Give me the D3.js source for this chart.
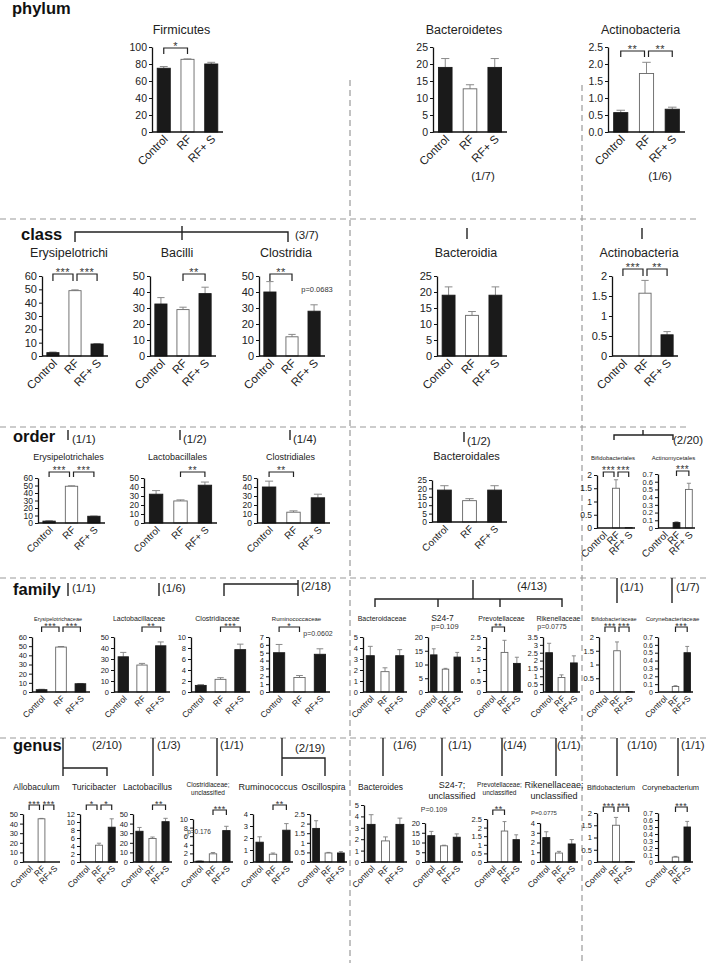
<!DOCTYPE html>
<html>
<head>
<meta charset="utf-8">
<script src="https://cdn.jsdelivr.net/npm/d3@7"></script>
<style>
  body { margin: 0; background: #fff; }
  svg { display: block; font-family: "Liberation Sans", Arial, sans-serif; }
</style>
</head>
<body>
<div class="svgs"></div>
<script>
const width = 709
const height = 963

// ---- data ----
const groupsUpper = ["Control", "RF", "RF+ S"]
const groupsLower = ["Control", "RF", "RF+S"]
const rankNames = ["phylum", "class", "order", "family", "genus"]

const panelNames = [
    "Firmicutes", "Bacteroidetes", "Actinobacteria",
    "Erysipelotrichi", "Bacilli", "Clostridia", "Bacteroidia", "Actinobacteria",
    "Erysipelotrichales", "Lactobacillales", "Clostridiales", "Bacteroidales", "Bifidobacteriales", "Actinomycetales",
    "Erysipelotrichaceae", "Lactobacillaceae", "Clostridiaceae", "Ruminococcaceae", "Bacteroidaceae",
    "S24-7", "Prevotellaceae", "Rikenellaceae", "Bifidobacteriaceae", "Corynebacteriaceae",
    "Allobaculum", "Turicibacter", "Lactobacillus", "Clostridiaceae;|unclassified", "Ruminococcus", "Oscillospira",
    "Bacteroides", "S24-7;|unclassified", "Prevotellaceae;|unclassified", "Rikenellaceae;|unclassified",
    "Bifidobacterium", "Corynebacterium"
]
const panelRank = [0,0,0, 1,1,1,1,1, 2,2,2,2,2,2, 3,3,3,3,3,3,3,3,3,3, 4,4,4,4,4,4,4,4,4,4,4,4]

const meanValues = [
    [75, 85.5, 80], [19, 12.7, 19], [0.57, 1.72, 0.67],
    [2.5, 49, 9], [32.5, 29, 39], [40, 12, 28], [19, 12.7, 19], [0, 1.57, 0.53],
    [2.5, 49, 9], [32, 24.5, 42], [40, 12, 28], [19, 12.7, 19], [0, 1.5, 0.01], [0, 0.07, 0.5],
    [2.5, 49, 9], [32, 24.5, 42], [1.2, 2.3, 7.7], [5, 1.85, 4.8], [3.3, 1.85, 3.3],
    [13.5, 8.3, 12.7], [0, 1.8, 1.3], [2.5, 0.92, 1.85], [0, 1.5, 0.01], [0, 0.07, 0.5],
    [0, 45, 0], [0, 4.2, 8.7], [32, 24.5, 42], [0.2, 1.9, 7.3], [1.65, 0.65, 2.65], [1.75, 0.47, 0.47],
    [3.3, 1.85, 3.3], [13.5, 8.3, 12.7], [0, 1.8, 1.3], [2.5, 0.92, 1.85], [0, 1.5, 0.01], [0, 0.07, 0.5]
]
const semValues = [
    [2, 0.5, 2], [2.6, 1.2, 2.6], [0.07, 0.33, 0.06],
    [0.5, 0.6, 0.3], [4, 1.5, 4], [6.5, 1.5, 4], [2.6, 1.2, 2.6], [0, 0.32, 0.08],
    [0.5, 0.6, 0.3], [4, 1.2, 3.5], [6.5, 1.5, 4], [2.6, 1.2, 2.6], [0, 0.32, 0], [0, 0.01, 0.08],
    [0.5, 0.6, 0.3], [4, 1.5, 3.5], [0.15, 0.3, 1], [1.05, 0.25, 0.7], [0.85, 0.35, 0.55],
    [2.2, 0.3, 1.7], [0, 0.55, 0.28], [0.6, 0.17, 0.45], [0, 0.32, 0], [0, 0.01, 0.08],
    [0, 0.4, 0], [0, 0.5, 2.1], [4, 1.5, 3.5], [0.05, 0.3, 1], [0.45, 0.1, 0.55], [0.4, 0.03, 0.07],
    [0.85, 0.35, 0.55], [2.2, 0.3, 1.7], [0, 0.55, 0.28], [0.6, 0.17, 0.45], [0, 0.32, 0], [0, 0.01, 0.08]
]
const axisMax = [100, 25, 2.5, 60, 50, 50, 25, 2, 60, 50, 50, 25, 2, 0.7,
    60, 50, 10, 7, 5, 20, 2.5, 3.5, 2, 0.7, 50, 12, 50, 10, 4, 2.5, 5, 20, 2.5, 4, 2, 0.7]
const axisStep = [20, 5, 0.5, 10, 10, 10, 5, 0.5, 10, 10, 10, 5, 0.5, 0.1,
    10, 10, 2, 1, 1, 5, 0.5, 0.5, 0.5, 0.1, 10, 2, 10, 2, 1, 0.5, 1, 5, 0.5, 1, 0.5, 0.1]

const sigPairs = [
    [[0, 1, "*"]], [], [[0, 1, "**"], [1, 2, "**"]],
    [[0, 1, "***"], [1, 2, "***"]], [[1, 2, "**"]], [[0, 1, "**"]], [], [[0, 1, "***"], [1, 2, "**"]],
    [[0, 1, "***"], [1, 2, "***"]], [[1, 2, "**"]], [[0, 1, "**"]], [], [[0, 1, "***"], [1, 2, "***"]], [[1, 2, "***"]],
    [[0, 1, "***"], [1, 2, "***"]], [[1, 2, "**"]], [[1, 2, "***"]], [[0, 1, "*"]], [],
    [], [[0, 1, "**"]], [], [[0, 1, "***"], [1, 2, "***"]], [[1, 2, "***"]],
    [[0, 1, "***"], [1, 2, "***"]], [[0, 1, "*"], [1, 2, "*"]], [[1, 2, "**"]], [[1, 2, "***"]], [[1, 2, "**"]], [],
    [], [], [[0, 1, "**"]], [], [[0, 1, "***"], [1, 2, "***"]], [[1, 2, "***"]]
]
const pNotes = [
    {panel: 5, text: "p=0.0683"}, {panel: 17, text: "p=0.0602"}, {panel: 19, text: "p=0.109"},
    {panel: 21, text: "p=0.0775"}, {panel: 27, text: "p=0.176"}, {panel: 31, text: "P=0.109"},
    {panel: 33, text: "P=0.0775"}
]
const countLabels = [
    "(1/7)", "(1/6)",
    "(3/7)",
    "(1/1)", "(1/2)", "(1/4)", "(1/2)", "(2/20)",
    "(1/1)", "(1/6)", "(2/18)", "(4/13)", "(1/1)", "(1/7)",
    "(2/10)", "(1/3)", "(1/1)", "(2/19)", "(1/6)", "(1/1)", "(1/4)", "(1/1)", "(1/10)", "(1/1)"
]

// ---- layout ----
const rowStyle = [
    {top: 47, bottom: 132, titleY: 34, titleFs: 12.5, titleDx: -6, tickFs: 10.5, labFs: 11.5, starFs: 11, brOff: 1, brH: 6},
    {top: 276, bottom: 356, titleY: 257, titleFs: 12.5, titleDx: -6, tickFs: 11, labFs: 11.5, starFs: 11, brOff: -2, brH: 7},
    {top: 478, bottom: 523, titleY: 460, titleFs: 9, titleDx: -3, tickFs: 8.5, labFs: 10, starFs: 10, brOff: -6, brH: 5},
    {top: 637, bottom: 692, titleY: 621, titleFs: 7, titleDx: -3, tickFs: 7.5, labFs: 8.5, starFs: 9, brOff: -10, brH: 5},
    {top: 814, bottom: 862, titleY: 790, titleFs: 8.5, titleDx: -5, tickFs: 7.5, labFs: 8.5, starFs: 9, brOff: -9, brH: 5}
]
const panelX = [
    [152, 223], [433, 507], [608, 685],
    [42, 108], [150, 216], [259, 325], [437, 507], [612, 678],
    [38, 105], [144, 217], [257, 330], [432, 507], [597, 635], [658, 695],
    [32, 90], [114, 170], [191, 250], [269, 330], [363, 407], [428, 463], [486, 523], [543, 580], [599, 635], [658, 693],
    [23, 60], [80, 118], [133, 172], [193, 233], [253, 293], [310, 347], [364, 407], [425, 463], [487, 522], [540, 578], [597, 635], [658, 693]
]
const panelOverride = {
    2: {brOff: 4}, 7: {brOff: -7},
    11: {top: 480, bottom: 522, titleFs: 11}, 12: {top: 475, bottom: 528, titleFs: 6, brOff: -3},
    13: {top: 474, bottom: 528, titleFs: 6, brOff: -3, tickFs: 7.5},
    14: {titleFs: 5.5}, 17: {titleFs: 6}, 19: {titleFs: 8.5}, 22: {titleFs: 5.5}, 23: {titleFs: 6, tickFs: 7},
    27: {top: 819, titleFs: 6.5, titleY: 787}, 28: {titleFs: 9}, 30: {top: 805},
    31: {top: 823, titleFs: 9, titleDx: 8, titleY: 788}, 32: {top: 819, titleFs: 6.5, titleY: 787},
    33: {top: 823, titleFs: 9, titleY: 788}, 34: {top: 813, titleFs: 7, brOff: -6},
    35: {top: 813, titleFs: 7.5, brOff: -6, tickFs: 7}
}
const swappedFill = [13]
const pNotePos = {5: [317, 292, 7.5], 17: [318, 636, 7], 19: [445, 629, 7.5], 21: [552, 629, 7],
    27: [199, 834, 6.5], 31: [434, 812, 7], 33: [544, 815, 6]}
const rankLabelPos = [[12, 14], [21, 240], [13, 442], [13, 595], [13, 751]]
const countPos = [
    [483, 180, "middle"], [660, 180, "middle"],
    [295, 239, "start"],
    [72, 443, "start"], [183, 443, "start"], [293, 443, "start"], [467, 445, "start"], [673, 444, "start"],
    [72, 592, "start"], [162, 592, "start"], [301, 590, "start"], [532, 590, "middle"], [620, 591, "start"], [676, 591, "start"],
    [107, 749, "middle"], [157, 749, "start"], [220, 749, "start"], [310, 752, "middle"], [393, 749, "start"],
    [448, 749, "start"], [503, 749, "start"], [557, 749, "start"], [627, 749, "start"], [681, 749, "start"]
]
const connectorPaths = [
    "M75,242V232H288V242M182,226V240", "M467,228V239", "M642,228V239",
    "M68,430V440", "M180,430V440", "M290,430V440", "M464,432V442", "M614,440V435H673V440M643,430V435",
    "M68,583V596", "M159,583V596", "M224,596V584H298M298,580V596",
    "M473,580V599M375,607V599H562V607M438,599V607M500,599V607", "M617,578V603", "M672,578V603",
    "M63,738V776M63,768H107V776", "M153,738V776", "M217,738V776", "M282,738V776M282,758H325V776",
    "M383,738V776", "M442,738V776", "M502,738V776", "M556,738V776", "M617,738V776", "M678,738V776"
]
const dashH = [[219, 0, 697], [427, 0, 687], [578, 0, 709], [738, 0, 709]]
const dashV = [[350, 80, 963], [582, 85, 963]]

const svg = d3.create("svg")
    .attr("width", width)
    .attr("height", height)
    .attr("viewBox", [0, 0, width, height])

svg.append("rect").attr("width", width).attr("height", height).attr("fill", "#fff")

// dashed separators
dashH.forEach(([y, xa, xb]) => svg.append("line")
    .attr("x1", xa).attr("x2", xb).attr("y1", y).attr("y2", y)
    .attr("stroke", "#9a9a9a").attr("stroke-width", 1.2).attr("stroke-dasharray", "6,4"))
dashV.forEach(([x, ya, yb]) => svg.append("line")
    .attr("x1", x).attr("x2", x).attr("y1", ya).attr("y2", yb)
    .attr("stroke", "#9a9a9a").attr("stroke-width", 1.2).attr("stroke-dasharray", "6,4"))

// rank labels
rankNames.forEach((r, i) => svg.append("text")
    .attr("x", rankLabelPos[i][0]).attr("y", rankLabelPos[i][1])
    .attr("font-size", 16.5).attr("font-weight", "bold").attr("fill", "#111")
    .text(r))

// hierarchy connectors
connectorPaths.forEach(p => svg.append("path")
    .attr("d", p).attr("fill", "none").attr("stroke", "#222").attr("stroke-width", 1.4))

countLabels.forEach((t, i) => svg.append("text")
    .attr("x", countPos[i][0]).attr("y", countPos[i][1])
    .attr("text-anchor", countPos[i][2])
    .attr("font-size", 11.5).attr("fill", "#222")
    .text(t))

// panels
panelNames.forEach((name, i) => {
    const o = Object.assign({}, rowStyle[panelRank[i]], panelOverride[i] || {})
    const [x0, x1] = panelX[i]
    const groups = panelRank[i] < 3 ? groupsUpper : groupsLower
    const x = d3.scaleBand().domain(groups).range([x0, x1]).paddingInner(0.45).paddingOuter(0.22)
    const y = d3.scaleLinear().domain([0, axisMax[i]]).range([o.bottom, o.top])
    const cx = k => x(groups[k]) + x.bandwidth() / 2
    const fills = swappedFill.includes(i) ? ["#1a1a1a", "#1a1a1a", "#fff"] : ["#1a1a1a", "#fff", "#1a1a1a"]
    const rows = groups.map((gname, k) => ({g: gname, k, v: meanValues[i][k], e: semValues[i][k]}))

    const g = svg.append("g")

    const ticks = d3.range(0, axisMax[i] + axisStep[i] / 2, axisStep[i]).map(v => +v.toFixed(3))
    const fmt = i === 2 ? d3.format(".1f") : d3.format("~g")
    g.append("g")
        .attr("transform", `translate(${x0},0)`)
        .call(d3.axisLeft(y).tickValues(ticks).tickFormat(fmt).tickSize(3).tickSizeOuter(0).tickPadding(2))
        .attr("font-family", null)
        .attr("font-size", o.tickFs)
        .call(a => a.select(".domain").attr("stroke", "#111").attr("stroke-width", 1.3))
        .call(a => a.selectAll(".tick line").attr("stroke", "#111"))
        .call(a => a.selectAll(".tick text").attr("fill", "#222"))

    // error bars
    const eb = rows.filter(d => d.e > 0)
    g.selectAll("line.err").data(eb).join("line")
        .attr("x1", d => cx(d.k)).attr("x2", d => cx(d.k))
        .attr("y1", d => y(d.v)).attr("y2", d => y(d.v + d.e))
        .attr("stroke", "#8a8a8a").attr("stroke-width", 1)
    g.selectAll("line.cap").data(eb).join("line")
        .attr("x1", d => cx(d.k) - x.bandwidth() * 0.3).attr("x2", d => cx(d.k) + x.bandwidth() * 0.3)
        .attr("y1", d => y(d.v + d.e)).attr("y2", d => y(d.v + d.e))
        .attr("stroke", "#8a8a8a").attr("stroke-width", 1)

    g.selectAll("rect.bar").data(rows.filter(d => d.v > 0)).join("rect")
        .attr("x", d => x(d.g))
        .attr("y", d => y(d.v))
        .attr("width", x.bandwidth())
        .attr("height", d => y(0) - y(d.v))
        .attr("fill", d => fills[d.k])
        .attr("stroke", d => fills[d.k] === "#fff" ? "#666" : "#1a1a1a")
        .attr("stroke-width", 0.9)

    g.append("line")
        .attr("x1", x0).attr("x2", x1).attr("y1", o.bottom).attr("y2", o.bottom)
        .attr("stroke", "#111").attr("stroke-width", 1.7)

    g.selectAll("text.lab").data(groups).join("text")
        .attr("transform", d => `translate(${x(d) + x.bandwidth() / 2 + 2},${o.bottom + 5}) rotate(-45)`)
        .attr("text-anchor", "end")
        .attr("dy", "0.35em")
        .attr("font-size", o.labFs)
        .attr("fill", "#222")
        .text(d => d)

    name.split("|").forEach((ln, j) => g.append("text")
        .attr("x", (x0 + x1) / 2 + o.titleDx)
        .attr("y", o.titleY + j * (o.titleFs + 1.5))
        .attr("text-anchor", "middle")
        .attr("font-size", o.titleFs)
        .attr("fill", "#222")
        .text(ln))

    // significance brackets
    const sig = sigPairs[i]
    const yb = o.top + o.brOff
    sig.forEach(([a, b, s]) => {
        const shared = sig.length > 1
        const xa = cx(a) + (shared && a === 1 ? 2 : 0)
        const xb = cx(b) - (shared && b === 1 ? 2 : 0)
        g.append("path")
            .attr("d", `M${xa},${yb + o.brH}V${yb}H${xb}V${yb + o.brH}`)
            .attr("fill", "none").attr("stroke", "#222").attr("stroke-width", 1.2)
        g.append("text")
            .attr("x", (xa + xb) / 2).attr("y", yb + o.starFs * 0.2)
            .attr("text-anchor", "middle")
            .attr("font-size", o.starFs)
            .attr("letter-spacing", 0.5)
            .attr("fill", "#333")
            .text(s)
    })
})

pNotes.forEach(({panel, text}) => svg.append("text")
    .attr("x", pNotePos[panel][0]).attr("y", pNotePos[panel][1])
    .attr("text-anchor", "middle")
    .attr("font-size", pNotePos[panel][2])
    .attr("fill", "#333")
    .text(text))

document.querySelector(".svgs").appendChild(svg.node())
</script>
</body>
</html>
